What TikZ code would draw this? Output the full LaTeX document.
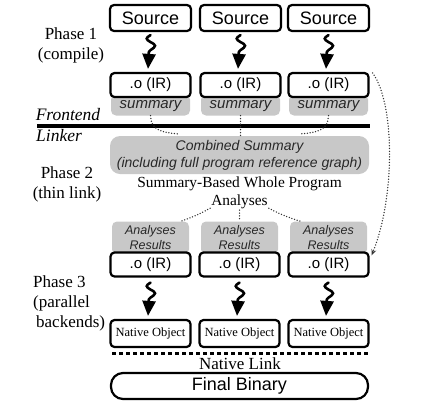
\documentclass[tikz,border=0pt]{standalone}
\usepackage{fontspec}
\setmainfont{Liberation Serif}
\setsansfont{Liberation Sans}
\usetikzlibrary{arrows.meta,calc}
\definecolor{boxgray}{RGB}{200,200,200}
\definecolor{txtgray}{RGB}{40,40,40}
\begin{document}
\begin{tikzpicture}[x=1pt,y=-1pt,
  blk/.style={draw, line width=2.2pt, rounded corners=4pt, fill=white, inner sep=0pt,
    font=\sffamily\fontsize{18}{18}\selectfont},
  obox/.style={blk, minimum width=80pt, minimum height=24pt, font=\sffamily\fontsize{15}{15}\selectfont},
  nobox/.style={blk, minimum width=80pt, minimum height=27pt, font=\fontsize{12.5}{12.5}\selectfont},
  gbox/.style={fill=boxgray, rounded corners=5pt, inner sep=0pt, text=txtgray,
    font=\sffamily\itshape\fontsize{15}{15}\selectfont},
  argbox/.style={gbox, minimum width=77pt, minimum height=33pt, align=center,
    font=\sffamily\itshape\fontsize{12.5}{15}\selectfont},
  lbl/.style={inner sep=0pt, font=\fontsize{17}{20}\selectfont},
  squig/.style={line width=2.6pt, line cap=round, -{Triangle[length=15pt,width=13pt]},
    to path={.. controls +(-5,3) and +(-5,-3) .. ($(\tikztostart)+(0,7)$)
             .. controls +(6,3) and +(6,-4) .. ($(\tikztostart)+(0,15)$)
             .. controls +(-3,2) and +(1,-14) .. (\tikztotarget)}},
  dots/.style={line width=1.5pt, dash pattern=on 0pt off 2.8pt, line cap=round, black!80},
]
\useasboundingbox (0,0) rectangle (423,408);

% Phase 1
\foreach \i/\x in {1/150.5,2/240.5,3/328.5}{
  \node[gbox, minimum width=79pt, minimum height=21pt] (sm\i) at (\x,105) {};
  \node[inner sep=0pt, text=txtgray, font=\sffamily\itshape\fontsize{15}{15}\selectfont] at (\x,106.5) {summary};
  \node[blk, minimum width=81pt, minimum height=26pt] (s\i) at (\x,18) {Source};
  \node[obox] (o\i) at (\x,85) {.o (IR)};
  \draw[squig] ($(s\i.south)+(0,3)$) to ($(o\i.north)+(-2.5,-3)$);
}

\node[lbl, align=center] (ph1) at (71,45) {Phase 1\\(compile)};
\node[lbl, font=\itshape\fontsize{17.5}{20}\selectfont] (fe) at (68,115) {Frontend};
\node[lbl, font=\itshape\fontsize{17.5}{20}\selectfont] (lk) at (59,136) {Linker};
\draw[line width=3.5pt] (37,126) -- (370,126);

% Phase 2
\node[gbox, rounded corners=10pt, minimum width=259pt, minimum height=38pt, align=center,
  font=\sffamily\itshape\fontsize{14}{17}\selectfont] (comb) at (239.5,155)
  {Combined Summary\\(including full program reference graph)};
\node[lbl, align=center] (ph2) at (67,184) {Phase 2\\(thin link)};
\node[inner sep=0pt, font=\fontsize{15.4}{18}\selectfont] (sbw) at (239.5,184) {Summary-Based Whole Program};
\node[inner sep=0pt, font=\fontsize{15.4}{18}\selectfont] (an) at (239.5,202) {Analyses};

\draw[dots] (sm1.south) .. controls +(0,14) and +(-16,-1) .. ($(comb.north west)+(68,-2)$);
\draw[dots] (sm2.south) -- ($(comb.north)+(1,0)$);
\draw[dots] (sm3.south) .. controls +(0,14) and +(16,-1) .. ($(comb.north east)+(-68,-2)$);

% Phase 3
\foreach \i/\x in {1/150.5,2/239.5,3/328.5}{
  \node[argbox] (ar\i) at (\x,238) {Analyses\\Results};
  \node[obox] (p\i) at (\x,264.5) {.o (IR)};
  \node[nobox] (n\i) at (\x,333.5) {Native Object};
  \draw[squig] ($(p\i.south)+(0,5)$) to ($(n\i.north)+(-2.5,-3)$);
}
\draw[dots] ($(an.south west)+(-1,-1)$) .. controls +(-12,7) and +(6,-2) .. ($(ar1.north)+(30,0)$);
\draw[dots] ($(an.south)+(0,1)$) -- (ar2.north);
\draw[dots] ($(an.south east)+(1,-1)$) .. controls +(12,7) and +(-6,-2) .. ($(ar3.north)+(-28,0)$);

\draw[dots, -{Stealth[length=6pt,width=5pt]}] ($(o3.north east)+(3,1)$)
  .. controls +(22,30) and +(24,-60) .. ($(p3.north east)+(2,4)$);

\node[lbl, align=left, anchor=west] (ph3) at (33,303) {Phase 3\\(parallel\\\hspace*{3pt}backends)};

\draw[line width=3pt, dash pattern=on 3.5pt off 3.5pt] (112,353) -- (368,353);
\node[lbl] (nl) at (240,364) {Native Link};
\node[blk, rounded corners=12pt, minimum width=257pt, minimum height=26pt] (fb) at (239.5,386) {Final Binary};
\end{tikzpicture}
\end{document}
